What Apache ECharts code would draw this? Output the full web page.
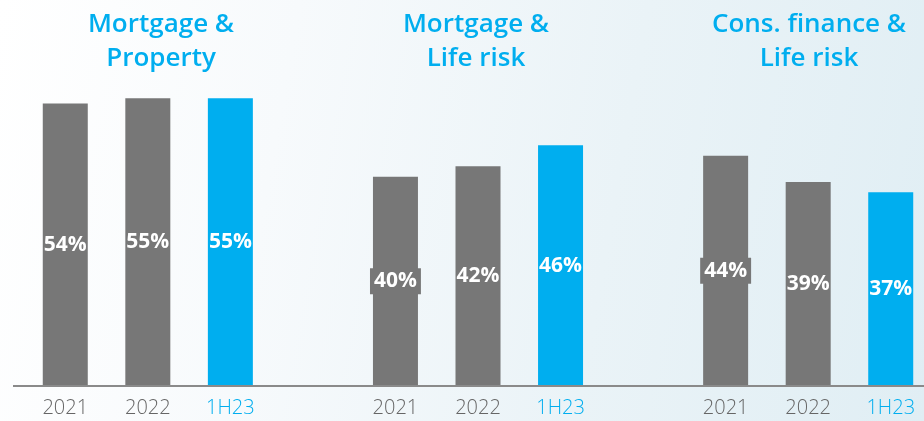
<!DOCTYPE html>
<html>
<head>
<meta charset="utf-8">
<script src="https://cdn.jsdelivr.net/npm/echarts@6/dist/echarts.min.js"></script>
<style>
  html, body { margin: 0; padding: 0; overflow: hidden; }
  body { width: 924px; height: 421px; background: linear-gradient(100deg, #ffffff 0%, #f7fafc 30%, #eaf3f7 65%, #e0eef4 100%); }
  #chart { width: 932px; height: 421px; }
</style>
</head>
<body>
<div id="chart"></div>
<script>
// Segment headings (one per cluster of bars)
const segments = ['Mortgage &\nProperty', 'Mortgage &\nLife risk', 'Cons. finance &\nLife risk'];
// Periods shown within each segment
const periods = ['2021', '2022', '1H23'];
// Share values (%) per segment, in period order
const mortgageProperty = [54, 55, 55];
const mortgageLifeRisk = [40, 42, 46];
const consFinanceLifeRisk = [44, 39, 37];

const GREY = '#777777';
const CYAN = '#00AEEF';
const FONT = '"Open Sans", Lato, sans-serif';

// visible width of the page; the canvas runs a little past it on the right
const W = 924, H = 421;
const GRID_LEFT = 24, GRID_RIGHT = 0, GRID_TOP = 72, GRID_BOTTOM = 35;
const Y_MAX = 60;

// Build the 11-slot category axis: 3 bars, a spacer, 3 bars, a spacer, 3 bars
const segmentValues = [mortgageProperty, mortgageLifeRisk, consFinanceLifeRisk];
const categories = [];
const barData = [];
// labels that sit on a small box because they are wider than the bar
const boxedLabels = [[1, 0], [2, 0]];
segmentValues.forEach((vals, s) => {
  if (s > 0) {
    categories.push({ value: '', textStyle: { color: 'transparent' } });
    barData.push(null);
  }
  vals.forEach((v, i) => {
    const isLatest = periods[i] === '1H23';
    const color = isLatest ? CYAN : GREY;
    categories.push({ value: periods[i], textStyle: { color: isLatest ? CYAN : '#666666' } });
    const boxed = boxedLabels.some(([bs, bi]) => bs === s && bi === i);
    barData.push({
      value: v,
      itemStyle: { color: color },
      label: boxed ? { backgroundColor: color, padding: [3, 4, 2, 4] } : {}
    });
  });
});

// Heading anchor x positions (text centres)
const titleX = [156, 471, 804];

const chart = echarts.init(document.getElementById('chart'), null, { renderer: 'canvas' });
chart.setOption({
  backgroundColor: 'transparent',
  animation: false,
  title: segments.map((t, k) => ({
    text: t,
    left: titleX[k],
    top: 3,
    textAlign: 'center',
    textStyle: {
      color: CYAN,
      fontFamily: FONT,
      fontWeight: 600,
      fontSize: 26,
      lineHeight: 34,
      align: 'center'
    }
  })),
  grid: { left: GRID_LEFT, right: GRID_RIGHT, top: GRID_TOP, bottom: GRID_BOTTOM, containLabel: false },
  xAxis: {
    type: 'category',
    data: categories,
    axisLine: { show: false },
    axisTick: { show: false },
    axisLabel: {
      margin: 12,
      fontFamily: FONT,
      fontWeight: 300,
      fontSize: 20,
      interval: 0
    }
  },
  yAxis: {
    type: 'value',
    min: 0,
    max: Y_MAX,
    show: false,
    splitLine: { show: false }
  },
  series: [{
    type: 'bar',
    data: barData,
    barWidth: 45,
    label: {
      show: true,
      position: 'inside',
      color: '#ffffff',
      fontFamily: FONT,
      fontWeight: 'bold',
      fontSize: 21,
      formatter: p => p.value + '%'
    }
  }],
  graphic: [{
    type: 'line',
    shape: { x1: 13, y1: H - GRID_BOTTOM, x2: W, y2: H - GRID_BOTTOM },
    style: { stroke: '#8a8a8a', lineWidth: 2 },
    z: 10
  }]
});
</script>
</body>
</html>
